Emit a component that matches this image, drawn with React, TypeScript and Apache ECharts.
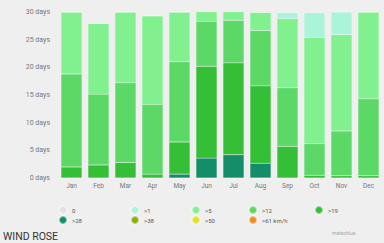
import React, { useEffect, useRef } from "react";
import * as echarts from "echarts";

const months = ["Jan", "Feb", "Mar", "Apr", "May", "Jun", "Jul", "Aug", "Sep", "Oct", "Nov", "Dec"];
const calm = [0, 0, 0, 0, 0, 0, 0, 0, 0, 0, 0, 0];
const over1 = [0, 0, 0, 0, 0, 0, 0, 0, 1.1, 4.5, 4.1, 0];
const over5 = [11.2, 12.8, 12.8, 16, 9, 1.75, 1.6, 3.3, 12.5, 19.2, 17.4, 15.7];
const over12 = [16.8, 12.8, 14.4, 12.6, 14.5, 8.1, 7.7, 10, 10.6, 5.7, 8.1, 13.9];
const over19 = [2.0, 2.35, 2.8, 0.7, 5.8, 16.6, 16.6, 14, 5.7, 0.5, 0.4, 0.4];
const over28 = [0, 0, 0, 0, 0.7, 3.6, 4.2, 2.65, 0, 0, 0, 0];
const over38 = [0, 0, 0, 0, 0, 0, 0, 0, 0, 0, 0, 0];
const over50 = [0, 0, 0, 0, 0, 0, 0, 0, 0, 0, 0, 0];
const over61 = [0, 0, 0, 0, 0, 0, 0, 0, 0, 0, 0, 0];

const classNames = ["0", ">1", ">5", ">12", ">19", ">28", ">38", ">50", ">61 km/h"];
const classColors = ["#e6dfe6", "#aaf5da", "#80f18e", "#5bd866", "#35bf37", "#138e68", "#88b00e", "#e2df24", "#f48b1f"];
const classData = [calm, over1, over5, over12, over19, over28, over38, over50, over61];

// legend layout (dot centers)
const legendCols = [57, 129, 190, 247, 313];
const legendRows = [204, 214];

export default function App() {
  const ref = useRef<HTMLDivElement>(null);
  useEffect(() => {
    if (!ref.current) return;
    const chart = echarts.init(ref.current, undefined, { renderer: "svg" });
    const order = [8, 7, 6, 5, 4, 3, 2, 1, 0];
    const series = order.map((i) => ({
      name: classNames[i],
      type: "bar",
      stack: "days",
      barWidth: 21,
      data: classData[i],
      itemStyle: { color: classColors[i], borderColor: "rgba(255,255,255,0.45)", borderWidth: 0.4 },
    }));
    const legends = classNames.map((n, i) => {
      const row = i < 5 ? 0 : 1;
      const col = i < 5 ? i : i - 5;
      return {
        data: [n],
        left: legendCols[col] - 4,
        top: legendRows[row] - 4,
        icon: "circle",
        itemWidth: 8,
        itemHeight: 8,
        itemGap: 4,
        selectedMode: false,
        textStyle: { fontSize: 6, color: "#555", fontFamily: "Roboto" },
      };
    });
    chart.setOption({
      animation: false,
      backgroundColor: "#efefef",
      grid: { left: 58, right: 2, top: 12, bottom: 65 },
      legend: legends,
      xAxis: {
        type: "category",
        data: months,
        axisLine: { show: false },
        axisTick: { show: false },
        axisLabel: { fontSize: 6.5, color: "#777", margin: 4, fontFamily: "Roboto" },
      },
      yAxis: {
        type: "value",
        min: 0,
        max: 30,
        interval: 5,
        splitLine: { show: false },
        axisLine: { show: false },
        axisTick: { show: false },
        axisLabel: {
          fontSize: 7,
          color: "#777",
          margin: 8,
          fontFamily: "Roboto",
          formatter: (v: number) => `${v} days`,
        },
      },
      series,
      graphic: [
        {
          type: "text",
          left: 332,
          top: 230,
          style: { text: "meteoblue", fontSize: 5, fill: "#aaa", fontFamily: "Roboto" },
        },
        {
          type: "text",
          left: 3,
          top: 231,
          style: { text: "WIND ROSE", fontSize: 10.5, fill: "#333", fontFamily: "Roboto" },
        },
      ],
    });
    return () => chart.dispose();
  }, []);
  return (
    <div
      ref={ref}
      style={{ position: "fixed", left: 0, top: 0, width: 384, height: 243, overflow: "hidden" }}
    />
  );
}
